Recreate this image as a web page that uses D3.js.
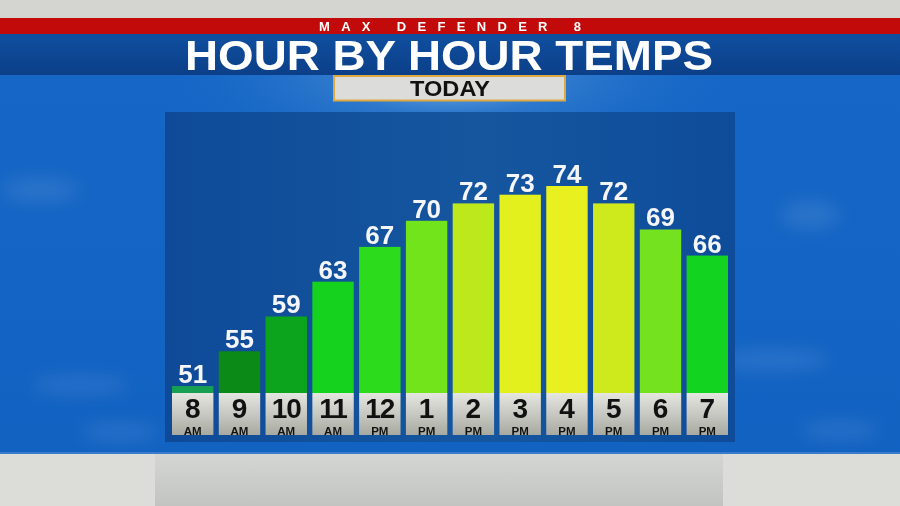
<!DOCTYPE html>
<html><head><meta charset="utf-8">
<script src="https://cdn.jsdelivr.net/npm/d3@7"></script>
<style>html,body{margin:0;padding:0;background:#ccc;}svg{display:block;}</style>
</head><body><div id="chart"></div>
<script>
const hours = ["8","9","10","11","12","1","2","3","4","5","6","7"];
const periods = ["AM","AM","AM","AM","PM","PM","PM","PM","PM","PM","PM","PM"];
const temps = [51,55,59,63,67,70,72,73,74,72,69,66];
const barColors = ["#17a052","#0b8a17","#0ca41c","#14d21e","#2cdc1c","#72e41c","#bde81c","#e4f01e","#e8f020","#cfea1c","#74e21e","#12d420"];
const title = "HOUR BY HOUR TEMPS";
const brand = "MAX DEFENDER 8";
const subtitle = "TODAY";

const W = 900, H = 506;
const svg = d3.select("#chart").append("svg").attr("width", W).attr("height", H);
const defs = svg.append("defs");

const sky = defs.append("linearGradient").attr("id","sky").attr("x1",0).attr("y1",0).attr("x2",0).attr("y2",1);
sky.append("stop").attr("offset","0%").attr("stop-color","#1566c6");
sky.append("stop").attr("offset","100%").attr("stop-color","#1262c2");
const glow = defs.append("radialGradient").attr("id","glow").attr("cx","0.5").attr("cy","0").attr("r","0.5");
glow.append("stop").attr("offset","0%").attr("stop-color","#a8d0f0").attr("stop-opacity",0.9);
glow.append("stop").attr("offset","40%").attr("stop-color","#5a9ad8").attr("stop-opacity",0.35);
glow.append("stop").attr("offset","100%").attr("stop-color","#1566c6").attr("stop-opacity",0);
const panelG = defs.append("linearGradient").attr("id","panel").attr("x1",0).attr("y1",0).attr("x2",1).attr("y2",0);
panelG.append("stop").attr("offset","0%").attr("stop-color","#0e4a98");
panelG.append("stop").attr("offset","55%").attr("stop-color","#15569f");
panelG.append("stop").attr("offset","100%").attr("stop-color","#0e4c9a");
const lab = defs.append("linearGradient").attr("id","lab").attr("x1",0).attr("y1",0).attr("x2",0).attr("y2",1);
lab.append("stop").attr("offset","0%").attr("stop-color","#e6e6e0");
lab.append("stop").attr("offset","100%").attr("stop-color","#a8aaa2");
const band = defs.append("linearGradient").attr("id","band").attr("x1",0).attr("y1",0).attr("x2",0).attr("y2",1);
band.append("stop").attr("offset","0%").attr("stop-color","#0f4fa0");
band.append("stop").attr("offset","100%").attr("stop-color","#0c3f88");
const bot = defs.append("linearGradient").attr("id","bot").attr("x1",0).attr("y1",0).attr("x2",0).attr("y2",1);
bot.append("stop").attr("offset","0%").attr("stop-color","#d4d6d4");
bot.append("stop").attr("offset","100%").attr("stop-color","#c2c4c2");
const blur = defs.append("filter").attr("id","blur").attr("x","-50%").attr("y","-50%").attr("width","200%").attr("height","200%");
blur.append("feGaussianBlur").attr("stdDeviation",9);

// background
svg.append("rect").attr("x",0).attr("y",0).attr("width",W).attr("height",H).attr("fill","#d4d4d0");
svg.append("rect").attr("x",0).attr("y",74).attr("width",W).attr("height",380).attr("fill","url(#sky)");
svg.append("rect").attr("x",150).attr("y",74).attr("width",600).attr("height",200).attr("fill","url(#glow)");
// faint clouds
const clouds = [[40,190,40,12],[80,385,50,8],[810,215,30,14],[770,360,60,10],[840,430,40,8],[120,432,40,8]];
svg.append("g").attr("filter","url(#blur)").selectAll("ellipse").data(clouds).join("ellipse")
  .attr("cx",d=>d[0]).attr("cy",d=>d[1]).attr("rx",d=>d[2]).attr("ry",d=>d[3])
  .attr("fill","#ffffff").attr("opacity",0.1);

// bottom gray
svg.append("rect").attr("x",0).attr("y",454).attr("width",W).attr("height",52).attr("fill","#dcdcd8");
svg.append("rect").attr("x",155).attr("y",454).attr("width",568).attr("height",52).attr("fill","url(#bot)");
svg.append("rect").attr("x",0).attr("y",452).attr("width",W).attr("height",2).attr("fill","#3a7ccc");

// header bands
svg.append("rect").attr("x",0).attr("y",18).attr("width",W).attr("height",16).attr("fill","#c20a0a");
svg.append("rect").attr("x",0).attr("y",34).attr("width",W).attr("height",41).attr("fill","url(#band)");
svg.append("text").attr("x",450).attr("y",31).attr("text-anchor","middle")
  .attr("font-family","'Liberation Sans', Arial, sans-serif").attr("font-weight","bold").attr("font-size",13)
  .attr("fill","#ffffff").attr("textLength",262).attr("lengthAdjust","spacing").text(brand);
svg.append("text").attr("x",449).attr("y",70).attr("text-anchor","middle")
  .attr("font-family","'Liberation Sans', Arial, sans-serif").attr("font-weight","bold").attr("font-size",43)
  .attr("fill","#ffffff").attr("textLength",528).attr("lengthAdjust","spacingAndGlyphs").text(title);

// TODAY box
svg.append("rect").attr("x",334).attr("y",76).attr("width",231).attr("height",24.5).attr("fill","#dcdcda")
  .attr("stroke","#e0a840").attr("stroke-width",2);
svg.append("text").attr("x",450).attr("y",96).attr("text-anchor","middle")
  .attr("font-family","'Liberation Sans', Arial, sans-serif").attr("font-weight","bold").attr("font-size",22)
  .attr("fill","#111").attr("textLength",80).attr("lengthAdjust","spacingAndGlyphs").text(subtitle);

// panel
svg.append("rect").attr("x",165).attr("y",112).attr("width",570).attr("height",330).attr("fill","url(#panel)");

const x = d3.scaleBand().domain(hours.map((h,i)=>i)).range([172,728]).paddingInner(0.115).paddingOuter(0);
const y = d3.scaleLinear().domain([50.2,74]).range([393,186]);

const g = svg.append("g");
const idx = d3.range(temps.length);
g.selectAll("rect.bar").data(idx).join("rect").attr("class","bar")
  .attr("x",i=>x(i)).attr("width",x.bandwidth())
  .attr("y",i=>y(temps[i])).attr("height",i=>y.range()[0]-y(temps[i]))
  .attr("fill",i=>barColors[i]);
g.selectAll("text.val").data(idx).join("text").attr("class","val")
  .attr("x",i=>x(i)+x.bandwidth()/2).attr("y",i=>y(temps[i])-3)
  .attr("text-anchor","middle").attr("font-family","'Liberation Sans', Arial, sans-serif")
  .attr("font-weight","bold").attr("font-size",26).attr("fill","#f4f6fa").text(i=>temps[i]);
g.selectAll("rect.lab").data(idx).join("rect").attr("class","lab")
  .attr("x",i=>x(i)).attr("width",x.bandwidth()).attr("y",393).attr("height",42).attr("fill","url(#lab)");
g.selectAll("text.hr").data(idx).join("text").attr("class","hr")
  .attr("x",i=>x(i)+x.bandwidth()/2).attr("y",418).attr("text-anchor","middle")
  .attr("font-family","'Liberation Sans', Arial, sans-serif").attr("font-weight","bold").attr("font-size",28)
  .attr("letter-spacing",i=>hours[i].length>1?-1:0)
  .attr("fill","#111").text(i=>hours[i]);
g.selectAll("text.pd").data(idx).join("text").attr("class","pd")
  .attr("x",i=>x(i)+x.bandwidth()/2).attr("y",434.5).attr("text-anchor","middle")
  .attr("font-family","'Liberation Sans', Arial, sans-serif").attr("font-weight","bold").attr("font-size",11.5)
  .attr("fill","#111").text(i=>periods[i]);
</script></body></html>
